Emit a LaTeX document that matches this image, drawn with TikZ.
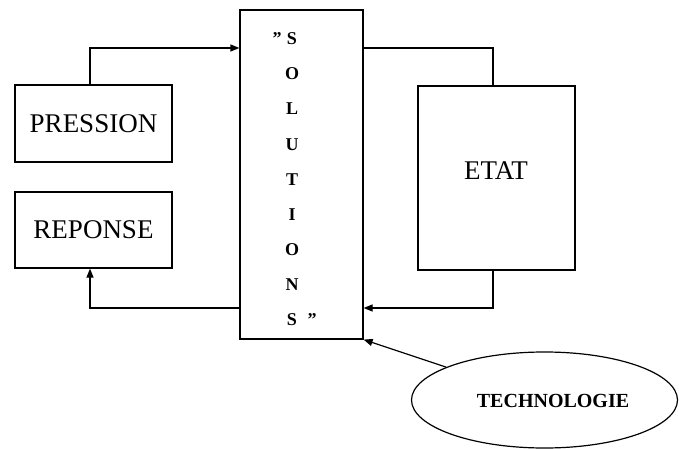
\documentclass[tikz,border=0pt]{standalone}
\usepackage{fontspec}
\setmainfont{Liberation Serif}[Ligatures=ResetAll]
\usetikzlibrary{arrows.meta,shapes.geometric}

\begin{document}
\begin{tikzpicture}[x=1pt,y=-1pt,
  boite/.style={draw, line width=1.2pt, inner sep=0pt, font=\fontsize{27}{27}\selectfont},
  lettre/.style={font=\fontsize{18}{18}\selectfont\bfseries, inner sep=0pt, anchor=base},
  fleche/.style={line width=1.2pt, -{Triangle[length=9pt,width=7pt]}},
  trait/.style={line width=1.2pt}]

\useasboundingbox (0,0) rectangle (679,449);

\node[boite, minimum width=157pt, minimum height=77pt] (press) at (93.5,123.5) {PRESSION};
\node[boite, minimum width=157pt, minimum height=76pt] (rep) at (93.5,230) {REPONSE};
\node[boite, minimum width=123pt, minimum height=329pt] (sol) at (301.5,174.5) {};
\node[boite, minimum width=157pt, minimum height=184pt] (etat) at (496.5,178) {};
\node[font=\fontsize{27}{27}\selectfont, inner sep=0pt] (etattxt) at (496,171) {ETAT};
\node[draw, ellipse, line width=1.2pt, minimum width=266pt, minimum height=96pt, inner sep=0pt] (tech) at (544.5,400) {};
\node[font=\fontsize{20}{20}\selectfont\bfseries, inner sep=0pt] (techtxt) at (553,401) {TECHNOLOGIE};

% lettres verticales
\foreach \c [count=\i] in {S,O,L,U,T,I,O,N,S}
  \node[lettre] (l\i) at (292, 10 + 35*\i) {\c};
\node[lettre] (qo) at (277,45) {"};
\node[lettre] (qf) at (312,325) {"};

\draw[fleche] (press.north -| 90,0) |- (sol.west |- 0,48);
\draw[trait] (sol.east |- 0,48) -| (etat.north -| 493,0);
\draw[fleche] (etat.south -| 493,0) |- (sol.east |- 0,308);
\draw[fleche] (sol.west |- 0,308) -| (rep.south -| 90,0);
\draw[fleche] (tech) -- (sol.south east);

\end{tikzpicture}
\end{document}
